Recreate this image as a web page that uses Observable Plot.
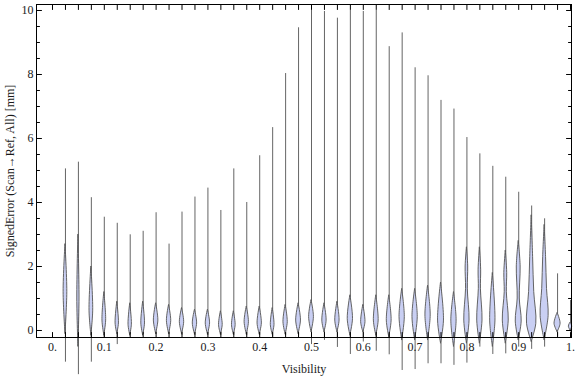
<!DOCTYPE html>
<html>
<head>
<meta charset="utf-8">
<script src="https://cdn.jsdelivr.net/npm/d3@7"></script>
<script src="https://cdn.jsdelivr.net/npm/@observablehq/plot@0.6"></script>
<style>
  html, body { margin: 0; padding: 0; background: #fff; }
</style>
</head>
<body>
<div id="chart"></div>
<script>
// Visibility bins (violin positions)
const positions = [0.025,0.05,0.075,0.1,0.125,0.15,0.175,0.2,0.225,0.25,
  0.275,0.3,0.325,0.35,0.375,0.4,0.425,0.45,0.475,0.5,
  0.525,0.55,0.575,0.6,0.625,0.65,0.675,0.7,0.725,0.75,
  0.775,0.8,0.825,0.85,0.875,0.9,0.925,0.95,0.975,1.0];
// Extremes of signed error per bin [mm]
const minErr = [-0.99,-1.38,-0.99,-0.25,-0.44,-0.12,-0.12,-0.12,-0.12,-0.15,
  -0.15,-0.15,-0.15,-0.15,-0.15,-0.15,-0.2,-0.15,-0.15,-0.44,
  -0.31,-0.53,-0.75,-0.36,-0.65,-0.76,-1.25,-1.22,-1.04,-1.04,
  -1.09,-1.02,-0.52,-0.75,-0.73,-0.52,-0.59,-0.52,-0.18,-0.05];
const maxErr = [5.05,5.26,4.15,3.54,3.35,2.99,3.10,3.68,2.70,3.70,
  4.17,4.45,3.75,5.05,4.0,5.46,6.34,8.03,9.46,10,
  9.97,9.76,10,9.97,10,8.87,9.30,8.21,7.96,7.19,
  6.92,6.03,5.52,5.13,4.79,4.32,3.89,3.49,1.77,0.94];
// Density body: lower end, mode, upper end and relative density at mode
const bodyLow = [-0.1,-0.5,-0.15,-0.15,-0.1,-0.15,-0.15,-0.1,-0.1,-0.1,
  -0.12,-0.12,-0.12,-0.12,-0.12,-0.12,-0.12,-0.12,-0.1,-0.05,
  -0.05,-0.05,-0.15,-0.05,-0.15,-0.2,-0.3,-0.3,-0.3,-0.4,
  -0.5,-0.4,-0.4,-0.5,-0.4,-0.3,-0.35,-0.3,-0.05,0.0];
const modeY = [1.2,1.0,0.62,0.31,0.22,0.18,0.22,0.31,0.3,0.26,
  0.22,0.22,0.17,0.17,0.26,0.22,0.17,0.26,0.31,0.42,
  0.31,0.31,0.36,0.26,0.31,0.31,0.42,0.42,0.47,0.31,
  0.31,0.31,0.31,0.31,0.31,0.28,0.21,0.45,0.21,0.12];
const modeDensity = [2.3,1.4,2.3,2.3,2.1,2.1,2.3,2.8,2.7,2.7,
  2.7,2.7,2.3,2.3,2.7,2.7,2.3,2.7,3.0,3.0,
  2.7,2.7,3.3,2.7,3.0,3.0,3.3,3.3,3.3,3.7,
  3.3,3.3,3.3,3.3,3.7,3.7,5.8,5.0,3.8,2.1];
const bodyHigh = [2.7,3.0,2.0,1.2,0.9,0.85,0.9,0.85,0.8,0.7,
  0.65,0.65,0.6,0.6,0.75,0.75,0.7,0.8,0.85,0.95,
  0.85,0.9,1.1,0.8,1.1,1.1,1.3,1.3,1.4,1.5,
  1.2,2.6,2.6,1.8,2.5,2.8,3.6,3.3,0.55,0.25];
// Secondary mode (only in bins that show one)
const neckY = {31:1.3, 32:1.3, 34:1.2, 35:1.0, 36:1.2, 37:1.3};
const neckDensity = {31:1.1, 32:1.3, 34:1.3, 35:1.3, 36:3.2, 37:3.0};
const bumpY = {31:2.0, 32:1.9, 34:1.8, 35:2.0, 36:2.3, 37:2.3};
const bumpDensity = {31:1.6, 32:1.6, 34:1.8, 35:2.4, 36:1.8, 37:1.8};

const xTicks = [0,0.1,0.2,0.3,0.4,0.5,0.6,0.7,0.8,0.9,1];
const xMinorTicks = [0].concat(positions);
const yTicks = [0,2,4,6,8,10];
const yMinorTicks = [0.5,1,1.5,2.5,3,3.5,4.5,5,5.5,6.5,7,7.5,8.5,9,9.5];

// styles
const widthScale = 0.8 / 518;  // density units -> x units
const bodyFill = "#c9cff3";
const bodyStroke = "#555";
const tailStroke = "#4a4a4a";
const textColor = "#1a1a1a";

const rows = [];
positions.forEach((pos, k) => {
  const knots = [[bodyLow[k], 0], [modeY[k], modeDensity[k]]];
  if (bumpY[k] !== undefined) {
    knots.push([neckY[k], neckDensity[k]]);
    knots.push([bumpY[k], bumpDensity[k]]);
  }
  knots.push([bodyHigh[k], 0]);
  knots.forEach(([y, w]) => rows.push({k, pos, y, w}));
});
const tails = positions.map((pos, k) => ({pos, lo: minErr[k], hi: maxErr[k]}));

const tickShape = {draw(ctx, l) { ctx.moveTo(0, 0); ctx.lineTo(0, -l); }};
const tickOpts = {anchor: "start", shape: tickShape, stroke: "black", strokeWidth: 1};

const chart = Plot.plot({
  width: 576,
  height: 377,
  marginLeft: 36,
  marginRight: 5,
  marginTop: 4,
  marginBottom: 40,
  style: {fontFamily: "'Liberation Serif', 'Times New Roman', serif", fontSize: "12px", background: "white"},
  x: {domain: [-0.0309, 1.0019]},
  y: {domain: [-0.219, 10.1875]},
  marks: [
    Plot.ruleX(tails, {x: "pos", y1: "lo", y2: "hi", stroke: tailStroke, strokeWidth: 1, strokeOpacity: 0.85}),
    Plot.areaX(rows, {
      y: "y",
      x1: d => d.pos - d.w * widthScale,
      x2: d => d.pos + d.w * widthScale,
      z: "k",
      curve: "catmull-rom",
      fill: bodyFill,
      stroke: bodyStroke,
      strokeWidth: 0.9
    }),
    Plot.frame({stroke: "black", strokeWidth: 1}),
    Plot.vector(xMinorTicks, {x: d => d, frameAnchor: "bottom", rotate: 0, length: 5, ...tickOpts}),
    Plot.vector(xMinorTicks, {x: d => d, frameAnchor: "top", rotate: 180, length: 5, ...tickOpts}),
    Plot.vector(yTicks, {y: d => d, frameAnchor: "left", rotate: 90, length: 5, ...tickOpts}),
    Plot.vector(yMinorTicks, {y: d => d, frameAnchor: "left", rotate: 90, length: 3, ...tickOpts}),
    Plot.vector(yTicks, {y: d => d, frameAnchor: "right", rotate: -90, length: 5, ...tickOpts}),
    Plot.vector(yMinorTicks, {y: d => d, frameAnchor: "right", rotate: -90, length: 3, ...tickOpts}),
    Plot.axisX(xTicks, {
      tickSize: 0, tickPadding: 5, label: null, color: textColor,
      tickFormat: d => d === 0 ? "0." : d === 1 ? "1." : d.toFixed(1)
    }),
    Plot.axisY(yTicks, {tickSize: 0, tickPadding: 3, label: null, color: textColor, tickFormat: d => String(d)}),
    Plot.text(["Visibility"], {frameAnchor: "bottom", dy: 32, lineAnchor: "middle", textAnchor: "middle", text: d => d, fill: textColor, fontSize: 12}),
    Plot.text(["SignedError (Scan\u2192Ref, All) [mm]"], {frameAnchor: "left", dx: -26, rotate: -90, textAnchor: "middle", lineAnchor: "middle", text: d => d, fill: textColor, fontSize: 12})
  ]
});
document.getElementById("chart").appendChild(chart);
</script>
</body>
</html>
